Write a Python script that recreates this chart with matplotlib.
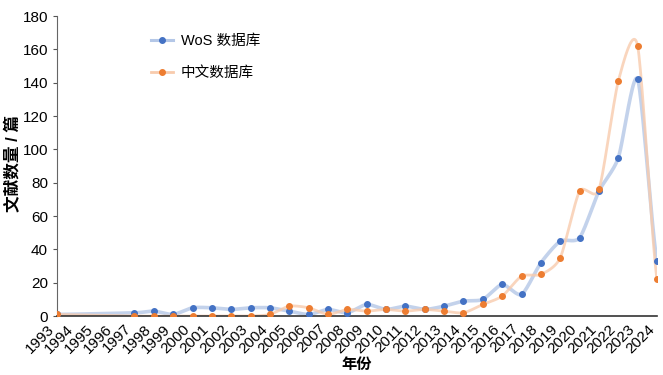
import numpy as np
import matplotlib
matplotlib.use("Agg")
import matplotlib.pyplot as plt

plt.rcParams['font.family'] = ['Liberation Sans', 'Noto Sans CJK SC']

# data (1994-1996 have no points)
years = [1993, 1997, 1998, 1999, 2000, 2001, 2002, 2003, 2004, 2005, 2006, 2007,
         2008, 2009, 2010, 2011, 2012, 2013, 2014, 2015, 2016, 2017, 2018, 2019,
         2020, 2021, 2022, 2023, 2024]
wos = [1, 2, 3, 1, 5, 5, 4, 5, 5, 3, 1, 4,
       2, 7, 4, 6, 4, 6, 9, 10, 19, 13, 32, 45,
       47, 75, 95, 142, 33]
cn = [1, 0, 0, 0, 0, 0, 0, 0, 1, 6, 5, 1,
      4, 3, 4, 3, 4, 3, 2, 7, 12, 24, 25, 35,
      75, 76, 141, 162, 22]
year_ticks = list(range(1993, 2025))


def smooth(x, y, n=24):
    # catmull-rom through the points, like a "smoothed line"
    x = np.asarray(x, float)
    y = np.asarray(y, float)
    px = np.concatenate([[2 * x[0] - x[1]], x, [2 * x[-1] - x[-2]]])
    py = np.concatenate([[y[0]], y, [y[-1]]])
    xs, ys = [], []
    t = np.linspace(0, 1, n)
    for i in range(1, len(px) - 2):
        for p, out in ((px, xs), (py, ys)):
            p0, p1, p2, p3 = p[i - 1], p[i], p[i + 1], p[i + 2]
            m1 = (p2 - p0) / 2 * 0.7
            m2 = (p3 - p1) / 2 * 0.7
            h00 = 2 * t**3 - 3 * t**2 + 1
            h10 = t**3 - 2 * t**2 + t
            h01 = -2 * t**3 + 3 * t**2
            h11 = t**3 - t**2
            out.extend(h00 * p1 + h10 * m1 + h01 * p2 + h11 * m2)
    return np.array(xs), np.array(ys)


fig = plt.figure(figsize=(6.63, 3.75), dpi=100)
ax = fig.add_axes([0.086, 0.157, 0.905, 0.8])

blue = '#4472c4'
orange = '#ed7d31'

sx, sy = smooth(years, wos)
ax.plot(sx, sy, color='#b4c7e7', lw=2.6, alpha=0.8, zorder=2)
sx, sy = smooth(years, cn)
ax.plot(sx, sy, color='#f8cbad', lw=2.0, alpha=0.8, zorder=2)
ax.plot(years, wos, 'o', color=blue, ms=4, zorder=3)
ax.plot(years, cn, 'o', color=orange, ms=4, zorder=3)

# legend handles
l1, = ax.plot([], [], '-o', color='#b4c7e7', mfc=blue, mec=blue, ms=4, lw=2.2)
l2, = ax.plot([], [], '-o', color='#f8cbad', mfc=orange, mec=orange, ms=4, lw=2.0)
ax.legend([l1, l2], ['WoS 数据库', '中文数据库'], loc='upper left',
          bbox_to_anchor=(0.135, 0.985), frameon=False, fontsize=10.5,
          handlelength=1.5, handletextpad=0.55, labelspacing=1.25)

ax.set_xlim(1993, 2024)
ax.set_ylim(0, 180)
ax.set_yticks(range(0, 181, 20))
ax.set_xticks(year_ticks)
ax.set_xticklabels([str(y) for y in year_ticks], rotation=45, ha='right',
                   va='top', fontsize=11)
ax.tick_params(axis='y', labelsize=11, length=3, color='#555555')
ax.tick_params(axis='x', length=0, pad=4)
for s in ['top', 'right']:
    ax.spines[s].set_visible(False)
ax.spines['left'].set_color('#666666')
ax.spines['bottom'].set_color('#333333')
ax.spines['bottom'].set_linewidth(1.2)

fig.text(13 / 663, 1 - 164 / 375, '文献数量 / 篇', rotation=90, ha='center',
         va='center', fontsize=12, fontweight='bold')
ax.set_xlabel('年份', fontsize=11, fontweight='bold', labelpad=2)

fig.savefig('out.png', dpi=100)
